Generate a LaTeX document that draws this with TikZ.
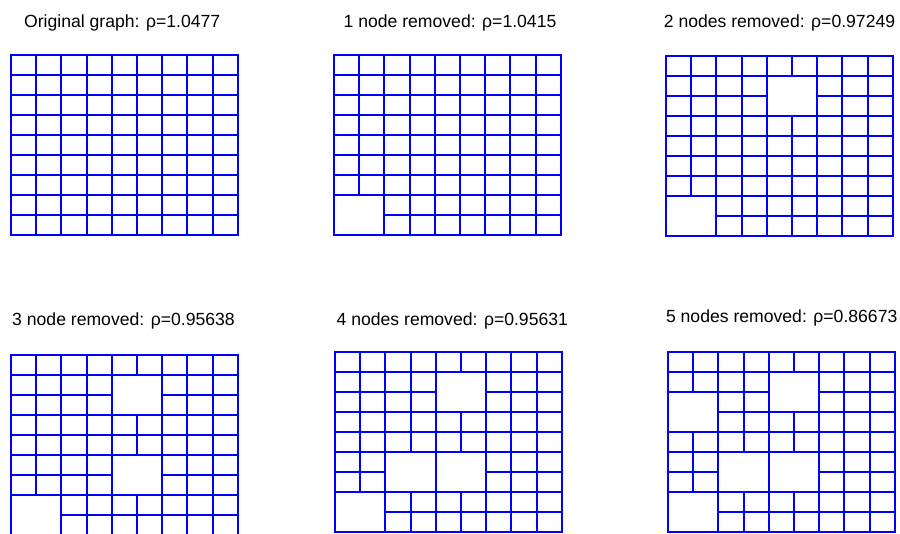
\documentclass[tikz,border=0pt]{standalone}
\usepackage{fontspec}
\setmainfont{Liberation Sans}
\usepackage{tikz}
\usetikzlibrary{positioning}
\definecolor{latticeblue}{HTML}{0000FF}

% one panel: 10x10 lattice, removed nodes given as col/row (row 0 = top)
\def\cellw{25.2}
\def\cellh{20.0}
\newcommand{\lattice}[4]{%
  \foreach \x in {0,...,9}
    \foreach \y in {0,...,9}
      \coordinate (#1-\x-\y) at ({round(#2+\x*\cellw)},{round(#3+\y*\cellh)});
  \foreach \x/\y in {#4}
    \expandafter\gdef\csname gone-#1-\x-\y\endcsname{};
  % horizontal links
  \foreach \x in {0,...,8}
    \foreach \y in {0,...,9} {
      \pgfmathtruncatemacro\nx{\x+1}
      \ifcsname gone-#1-\x-\y\endcsname\else
        \ifcsname gone-#1-\nx-\y\endcsname\else
          \draw[link] (#1-\x-\y) -- (#1-\nx-\y);
        \fi
      \fi
    }
  % vertical links
  \foreach \x in {0,...,9}
    \foreach \y in {0,...,8} {
      \pgfmathtruncatemacro\ny{\y+1}
      \ifcsname gone-#1-\x-\y\endcsname\else
        \ifcsname gone-#1-\x-\ny\endcsname\else
          \draw[link] (#1-\x-\y) -- (#1-\x-\ny);
        \fi
      \fi
    }}

\begin{document}
\begin{tikzpicture}[
    x=1pt, y=-1pt,
    link/.style={draw=latticeblue, line width=1.7pt, line cap=rect},
    title/.style={anchor=base, inner sep=0pt, font=\fontsize{17.6}{20}\selectfont}
]
\useasboundingbox (0,0) rectangle (900,534);

\node[title] (title1) at (122.2,27.5) {Original graph: ρ=1.0477};
\node[title] (title2) at (450.0,27.5) {1 node removed: ρ=1.0415};
\node[title] (title3) at (779.5,27.3) {2 nodes removed: ρ=0.97249};
\node[title] (title4) at (123.5,325.7) {3 node removed: ρ=0.95638};
\node[title] (title5) at (452.3,325.5) {4 nodes removed: ρ=0.95631};
\node[title] (title6) at (781.7,322.3) {5 nodes removed: ρ=0.86673};

\lattice{p1}{11}{55}{-1/-1}
\lattice{p2}{334}{55}{1/8}
\lattice{p3}{666}{56}{1/8,5/2}
\lattice{p4}{11}{355}{1/8,5/2,5/6}
\lattice{p5}{335}{352}{1/8,5/2,5/6,3/6}
\lattice{p6}{668}{352}{1/8,5/2,5/6,3/6,1/3}
\end{tikzpicture}
\end{document}
